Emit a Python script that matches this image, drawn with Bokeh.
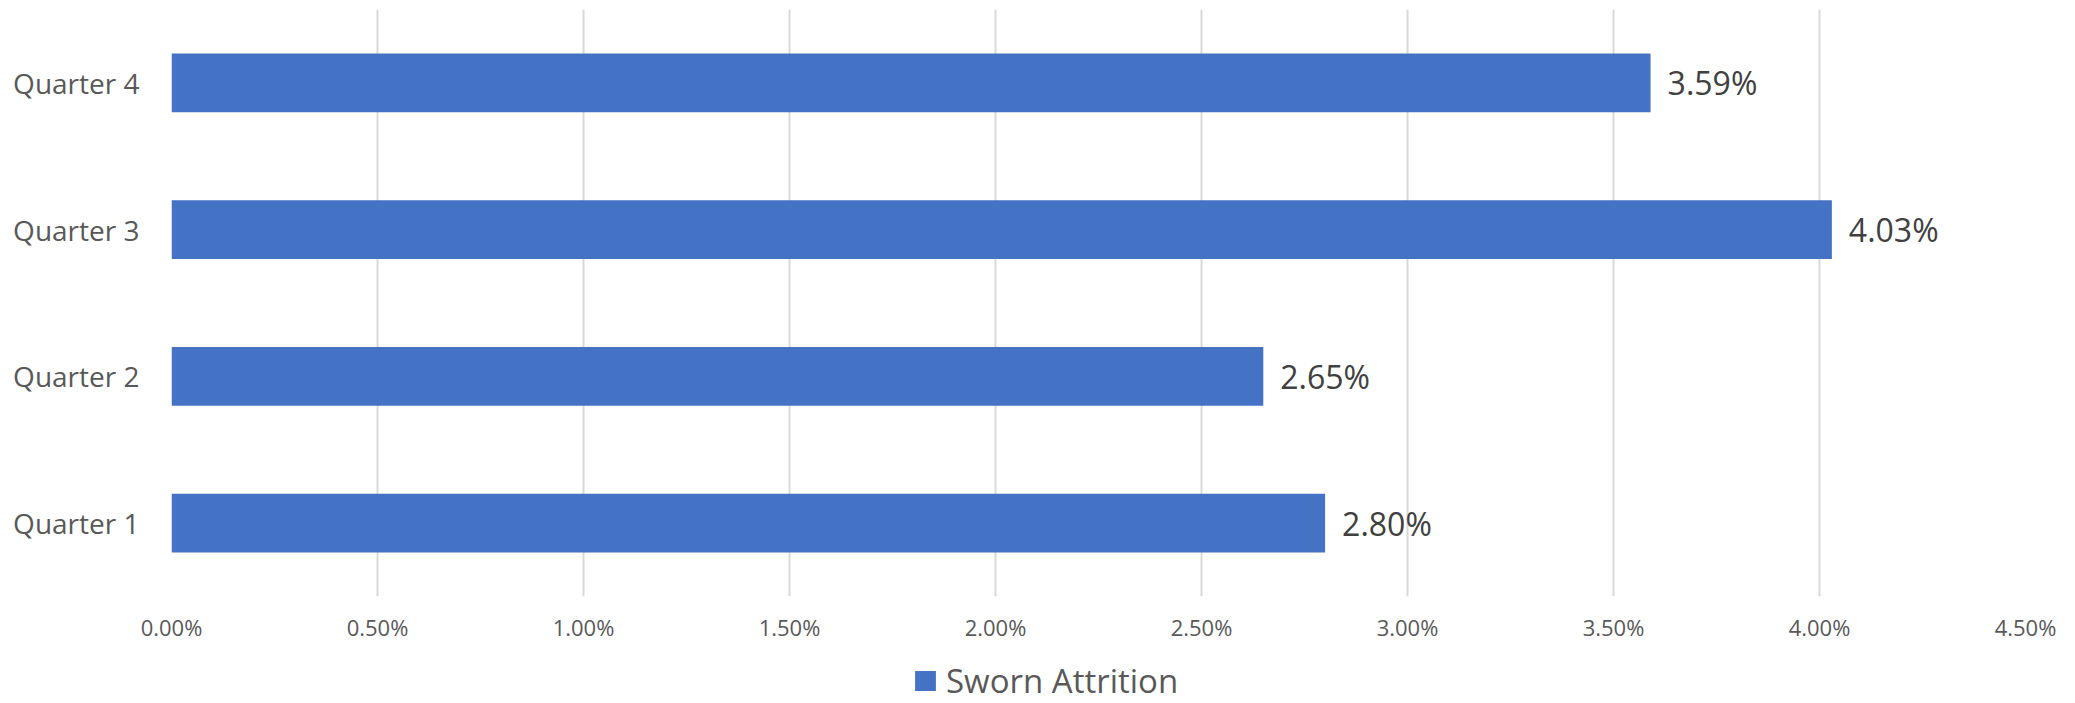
from bokeh.plotting import figure
from bokeh.layouts import column
from bokeh.models import (FactorRange, Range1d, NumeralTickFormatter, FixedTicker,
                          Legend, LegendItem, ColumnDataSource)
from bokeh.core.properties import value
from bokeh.embed import file_html
from bokeh.resources import INLINE

# ---- data ----
categories = ["Quarter 1", "Quarter 2", "Quarter 3", "Quarter 4"]
attrition = [0.0280, 0.0265, 0.0403, 0.0359]
x_ticks = [0.0, 0.005, 0.010, 0.015, 0.020, 0.025, 0.030, 0.035, 0.040, 0.045]
series_name = "Sworn Attrition"

labels = [f"{v * 100:.2f}%" for v in attrition]
src = ColumnDataSource(dict(cat=categories, val=attrition, lab=labels))

BAR = "#4472C4"
FONT = "Open Sans"

p = figure(width=2075, height=650,
           y_range=FactorRange(factors=categories, range_padding=0),
           x_range=Range1d(0, 0.045),
           output_backend="svg", toolbar_location=None,
           min_border_left=171, min_border_right=50,
           min_border_top=9, min_border_bottom=54)

bars = p.hbar(y="cat", right="val", left=0, height=0.4, source=src,
              fill_color=BAR, line_color=None)

p.text(x="val", y="cat", text="lab", source=src, x_offset=17,
       text_baseline="middle", text_align="left",
       text_font=value(FONT), text_font_size="32px", text_color="#404040")

p.outline_line_color = None
p.ygrid.grid_line_color = None
p.xgrid.grid_line_color = "#D9D9D9"
p.xgrid.grid_line_width = 2

p.xaxis.ticker = FixedTicker(ticks=x_ticks)
p.xaxis.formatter = NumeralTickFormatter(format="0.00%")
p.xaxis.axis_line_color = None
p.xaxis.major_tick_line_color = None
p.xaxis.minor_tick_line_color = None
p.xaxis.major_tick_out = 0
p.xaxis.major_tick_in = 0
p.xaxis.minor_tick_out = 0
p.xaxis.major_label_text_font = FONT
p.xaxis.major_label_text_font_size = "22px"
p.xaxis.major_label_text_color = "#595959"
p.xaxis.major_label_standoff = 15

p.yaxis.axis_line_color = None
p.yaxis.major_tick_line_color = None
p.yaxis.minor_tick_line_color = None
p.yaxis.major_tick_out = 0
p.yaxis.major_tick_in = 0
p.yaxis.major_label_text_font = FONT
p.yaxis.major_label_text_font_size = "28px"
p.yaxis.major_label_text_color = "#595959"
p.yaxis.major_label_standoff = 32

# ---- legend strip (hidden renderer supplies only the legend key) ----
q = figure(width=2075, height=53, x_range=Range1d(1, 2),
           y_range=FactorRange(factors=categories, range_padding=0),
           output_backend="svg", toolbar_location=None,
           min_border_left=0, min_border_right=0,
           min_border_top=0, min_border_bottom=0)
q.axis.visible = False
q.grid.visible = False
q.outline_line_color = None
key = q.hbar(y="cat", right="val", left=0, height=0.4, source=src,
             fill_color=BAR, line_color=None)
key.visible = False

legend = Legend(items=[LegendItem(label=series_name, renderers=[key])],
                location=(741, 0), orientation="horizontal",
                click_policy="none",
                glyph_width=26, glyph_height=25, label_standoff=8,
                padding=0, margin=0, spacing=0,
                border_line_color=None, background_fill_alpha=0,
                label_text_font=FONT, label_text_font_size="33px",
                label_text_color="#595959")
q.add_layout(legend, "center")

layout = column(p, q, spacing=0)
open("out.html", "w").write(file_html(layout, INLINE))
